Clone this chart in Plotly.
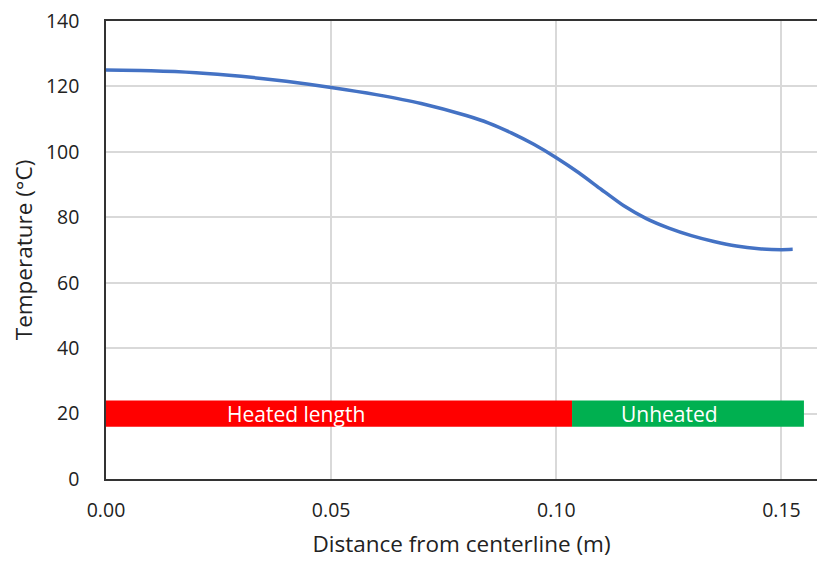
import plotly.graph_objects as go

# Temperature profile along the rod
distance_m = [0.0, 0.01, 0.02, 0.03, 0.04, 0.05, 0.06, 0.07, 0.08, 0.085, 0.09, 0.095, 0.10,
              0.105, 0.11, 0.115, 0.12, 0.125, 0.13, 0.135, 0.14, 0.145, 0.15, 0.1525]
temperature_c = [125.0, 124.8, 124.2, 123.1, 121.6, 119.7, 117.5, 114.8, 111.1, 108.8, 105.8, 102.3, 98.2,
                 93.6, 88.5, 83.5, 79.6, 76.7, 74.4, 72.6, 71.2, 70.4, 70.1, 70.2]

# Heated / unheated segments of the bar indicator
segment_labels = ["Heated length", "Unheated"]
segment_start = [0.0, 0.1035]
segment_end = [0.1035, 0.155]
segment_colors = ["#FF0000", "#00B050"]
segment_label_x = [0.0422, 0.1252]
bar_level = 20
bar_thickness = 8

x_ticks = [0.0, 0.05, 0.10, 0.15]
y_ticks = [0, 20, 40, 60, 80, 100, 120, 140]

FONT = "'Open Sans', sans-serif"

fig = go.Figure()

for lab, s, e, c in zip(segment_labels, segment_start, segment_end, segment_colors):
    fig.add_trace(go.Bar(
        orientation="h", y=[bar_level], x=[e - s], base=[s], width=bar_thickness,
        marker=dict(color=c, line=dict(width=0)), name=lab, hoverinfo="skip",
    ))

fig.add_trace(go.Scatter(
    x=distance_m, y=temperature_c, mode="lines",
    line=dict(color="#4472C4", width=3.5, shape="spline", smoothing=0.6),
    name="Temperature",
))

for lab, lx in zip(segment_labels, segment_label_x):
    fig.add_annotation(x=lx, y=bar_level, text=lab, showarrow=False,
                       font=dict(family=FONT, size=21, color="white"),
                       xanchor="center", yanchor="middle")

fig.update_layout(
    width=817, height=563,
    margin=dict(l=106, r=0, t=21, b=84),
    paper_bgcolor="white", plot_bgcolor="white",
    showlegend=False, barmode="overlay",
    font=dict(family=FONT, size=19.5, color="#222222"),
)

fig.update_xaxes(
    range=[0, 0.1579], tickvals=x_ticks, tickformat=".2f",
    showgrid=True, gridcolor="#D9D9D9", gridwidth=1.5,
    showline=True, linecolor="#333333", linewidth=1.5, mirror=True,
    zeroline=False, ticks="", ticklabelstandoff=13,
    title=dict(text="Distance from centerline (m)", font=dict(size=22.5), standoff=14),
)
fig.update_yaxes(
    range=[0, 140], tickvals=y_ticks,
    showgrid=True, gridcolor="#D9D9D9", gridwidth=1.5,
    showline=True, linecolor="#333333", linewidth=1.5,
    zeroline=False, ticks="", ticklabelstandoff=21,
    title=dict(text="Temperature (°C)", font=dict(size=22.5), standoff=7),
)

fig.write_html("out.html")
